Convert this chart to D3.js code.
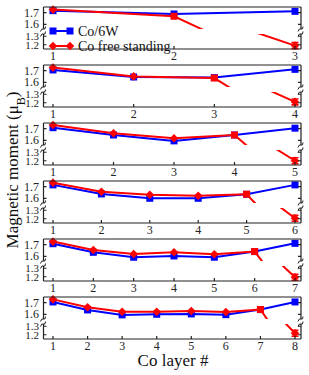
<!DOCTYPE html>
<html><head><meta charset="utf-8">
<script src="https://cdn.jsdelivr.net/npm/d3@7"></script>
<style>body{margin:0;background:#fff}svg{display:block}text{font-family:"Liberation Serif","DejaVu Serif",serif}</style>
</head><body>
<svg id="c" width="309" height="375"></svg>
<script>
// ---- data ----
const panelMaxLayer = [3, 4, 5, 6, 7, 8];
const upperTicks = [1.6, 1.7];
const lowerTicks = [1.2, 1.3];
const co6w = [
  [1.716, 1.688, 1.710],
  [1.705, 1.645, 1.640, 1.710],
  [1.707, 1.645, 1.595, 1.645, 1.703],
  [1.714, 1.637, 1.600, 1.600, 1.634, 1.714],
  [1.707, 1.634, 1.592, 1.603, 1.592, 1.640, 1.710],
  [1.705, 1.637, 1.595, 1.600, 1.603, 1.597, 1.640, 1.705]
];
const coFree = [
  [1.725, 1.668, 1.190],
  [1.725, 1.650, 1.636, 1.210],
  [1.730, 1.660, 1.617, 1.645, 1.200],
  [1.733, 1.656, 1.630, 1.622, 1.634, 1.206],
  [1.725, 1.654, 1.620, 1.634, 1.617, 1.640, 1.194],
  [1.727, 1.660, 1.622, 1.622, 1.628, 1.620, 1.640, 1.218]
];
const coFreeErr = [0.035, 0.035, 0.035, 0.035, 0.035, 0.035];
const seriesNames = ["Co/6W", "Co free standing"];

// ---- layout ----
const svg = d3.select("#c");
const PL = 43.5, PR = 301, top0 = 7, period = 58, ph = 42;
const upBot = 22, lowTop = 27;
const blue = "#0000ff", red = "#ff0000", axisCol = "#222";

const yUp = d3.scaleLinear().domain([1.56, 1.747]).range([upBot, 0]);
const yLow = d3.scaleLinear().domain([1.15, 1.3265]).range([ph, lowTop]);

const diamond = (s) => `M0,${-s}L${s},0L0,${s}L${-s},0Z`;

panelMaxLayer.forEach((N, i) => {
  const g = svg.append("g").attr("transform", `translate(0,${top0 + period * i})`);
  const x = d3.scaleLinear().domain([1, N]).range([53, 295]);
  const layersX = d3.range(1, N + 1);

  const cidU = "cu" + i, cidL = "cl" + i;
  const defs = g.append("defs");
  defs.append("clipPath").attr("id", cidU).append("rect")
    .attr("x", PL).attr("y", -6).attr("width", PR - PL + 6).attr("height", upBot + 6);
  defs.append("clipPath").attr("id", cidL).append("rect")
    .attr("x", PL).attr("y", lowTop).attr("width", PR - PL + 6).attr("height", ph - lowTop + 6);

  const blueVals = co6w[i], redVals = coFree[i];

  [[yUp, cidU], [yLow, cidL]].forEach(([ys, cid]) => {
    const layer = g.append("g").attr("clip-path", `url(#${cid})`);
    const line = d3.line().x((d, k) => x(k + 1)).y(d => ys(d));
    layer.append("path").attr("d", line(blueVals)).attr("fill", "none")
      .attr("stroke", blue).attr("stroke-width", 2);
    layer.selectAll(".bs").data(blueVals).join("rect")
      .attr("x", (d, k) => x(k + 1) - 3.5).attr("y", d => ys(d) - 3.5)
      .attr("width", 7).attr("height", 7).attr("fill", blue);
    layer.append("path").attr("d", line(redVals)).attr("fill", "none")
      .attr("stroke", red).attr("stroke-width", 2);
    const last = redVals.length - 1, xe = x(last + 1), e = coFreeErr[i];
    layer.append("path")
      .attr("d", `M${xe},${ys(redVals[last] + e)}V${ys(redVals[last] - e)}M${xe - 3.5},${ys(redVals[last] + e)}h7M${xe - 3.5},${ys(redVals[last] - e)}h7`)
      .attr("stroke", red).attr("stroke-width", 1.6).attr("fill", "none");
    layer.selectAll(".rm").data(redVals).join("path")
      .attr("transform", (d, k) => `translate(${x(k + 1)},${ys(d)})`)
      .attr("d", (d, k) => k === N - 2 ? "M-3.5,-3.5h7v7h-7Z" : diamond(4.3))
      .attr("fill", red);
  });

  const fr = g.append("g").attr("stroke", axisCol).attr("stroke-width", 1.2).attr("fill", "none");
  fr.append("path").attr("d", `M${PL},0H${PR}M${PL},${ph}H${PR}`);
  fr.append("path").attr("d", `M${PL},0V${upBot}M${PL},${lowTop}V${ph}M${PR},0V${upBot}M${PR},${lowTop}V${ph}`);
  [PL, PR].forEach(ax => {
    [upBot, lowTop].forEach(yy => {
      fr.append("path").attr("d", `M${ax - 3},${yy + 2.5}Q${ax - 2},${yy - 1} ${ax},${yy}T${ax + 2},${yy - 2.5}`)
        .attr("stroke-width", 1);
    });
  });
  const yt = [...upperTicks.map(v => yUp(v)), ...lowerTicks.map(v => yLow(v))];
  yt.forEach(yy => fr.append("path").attr("d", `M${PL},${yy}h3M${PR},${yy}h-3`));
  const tickTxt = (v, yy, fs) => g.append("text").attr("x", 39).attr("y", yy).text(v.toFixed(1))
    .attr("text-anchor", "end").attr("dominant-baseline", "central")
    .attr("font-size", fs).attr("fill", "#222");
  upperTicks.forEach(v => tickTxt(v, yUp(v), 12));
  lowerTicks.forEach(v => tickTxt(v, yLow(v), 11));
  layersX.forEach(v => {
    fr.append("path").attr("d", `M${x(v)},${ph}v-3`);
    g.append("text").attr("x", x(v)).attr("y", ph + 11).text(v)
      .attr("text-anchor", "middle").attr("font-size", 12).attr("fill", "#222");
  });

  if (i === 0) {
    const lg = g.append("g");
    lg.append("path").attr("d", `M53,24H70`).attr("stroke", blue).attr("stroke-width", 2);
    [53, 70].forEach(xx => lg.append("rect").attr("x", xx - 3.5).attr("y", 20.5).attr("width", 7).attr("height", 7).attr("fill", blue));
    lg.append("text").attr("x", 78).attr("y", 24).text(seriesNames[0]).attr("dominant-baseline", "central")
      .attr("font-size", 14).attr("fill", "#111");
    lg.append("path").attr("d", `M53,39H70`).attr("stroke", red).attr("stroke-width", 2);
    [53, 70].forEach(xx => lg.append("path").attr("transform", `translate(${xx},39)`).attr("d", diamond(4.3)).attr("fill", red));
    lg.append("text").attr("x", 78).attr("y", 39).text(seriesNames[1]).attr("dominant-baseline", "central")
      .attr("font-size", 14).attr("fill", "#111");
  }
});

svg.append("text").attr("x", 173).attr("y", 366).text("Co layer #")
  .attr("text-anchor", "middle").attr("font-size", 17).attr("fill", "#111");
const yl = svg.append("text").attr("transform", "translate(18,170) rotate(-90)")
  .attr("text-anchor", "middle").attr("font-size", 17).attr("fill", "#111");
yl.append("tspan").text("Magnetic moment (μ");
yl.append("tspan").text("B").attr("font-size", 12).attr("baseline-shift", "sub");
yl.append("tspan").text(")");
</script>
</body></html>
